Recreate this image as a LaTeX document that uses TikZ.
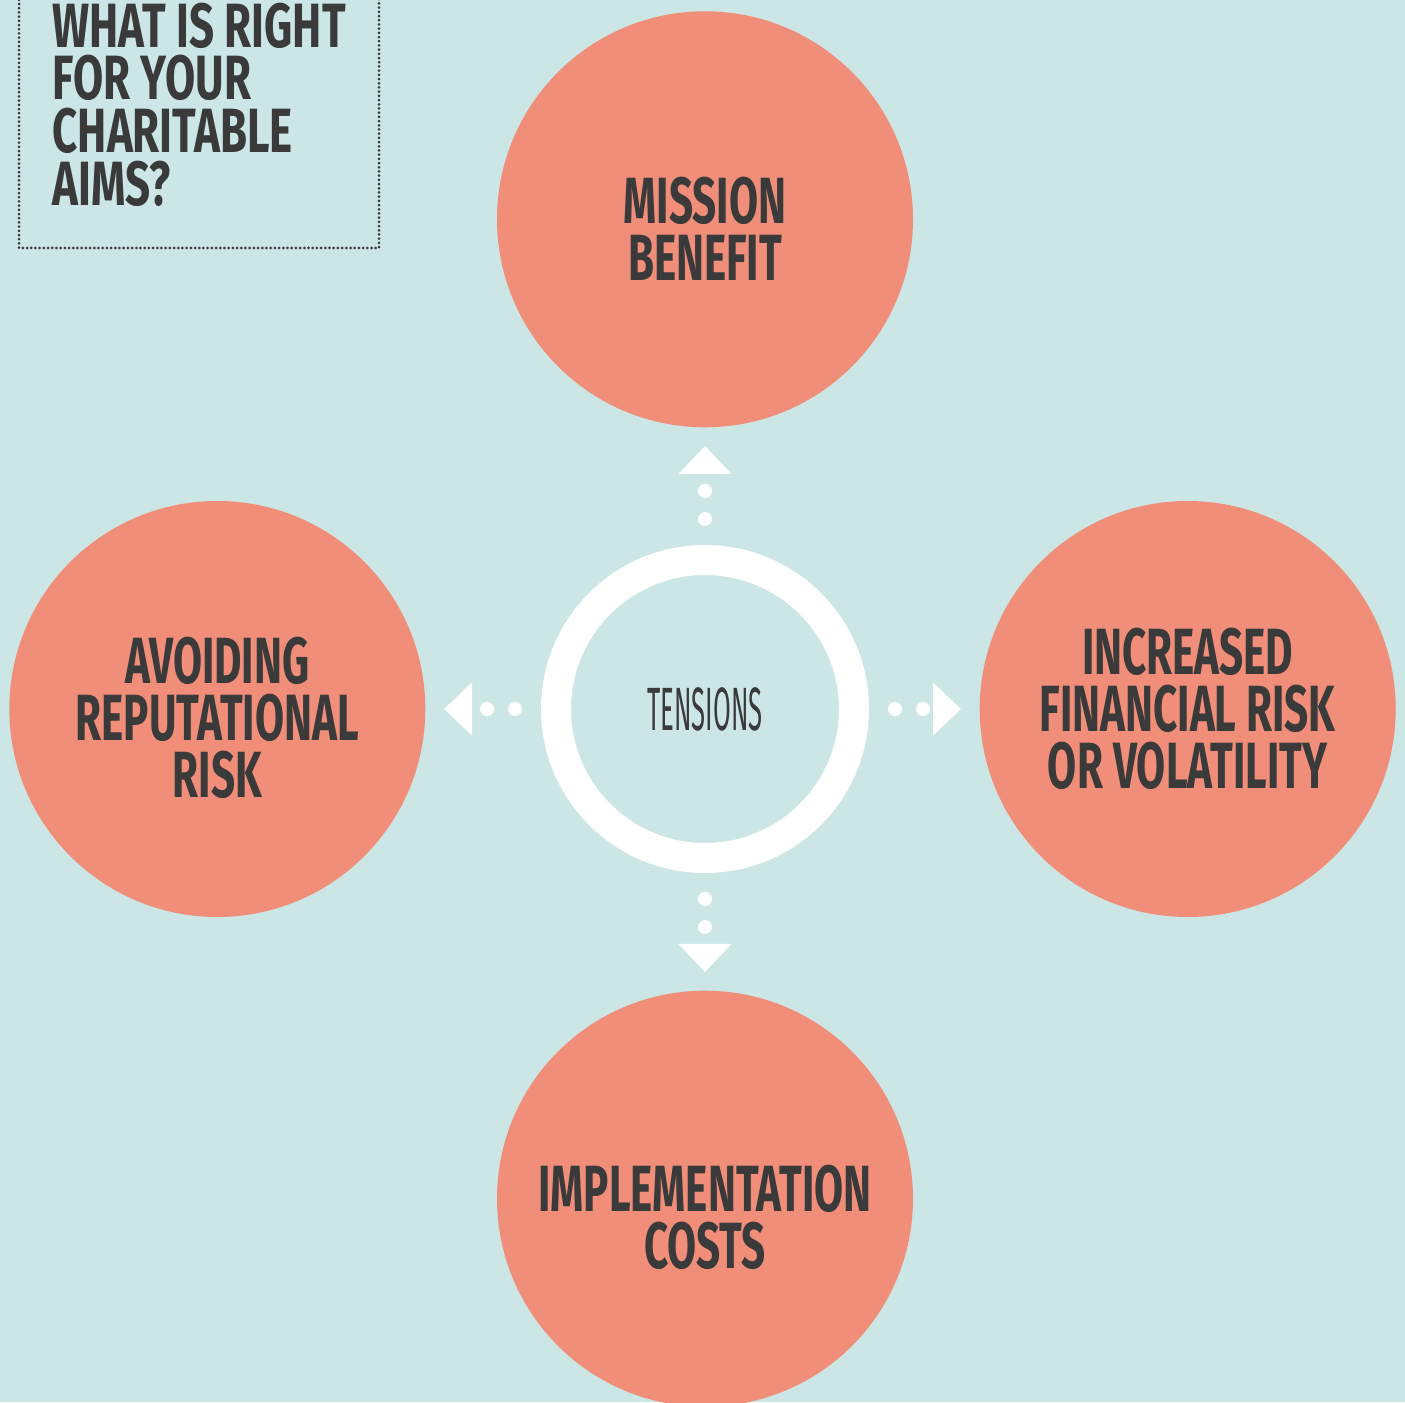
\documentclass[tikz,border=0pt]{standalone}
\usepackage{fontspec}
\usetikzlibrary{arrows.meta,positioning}

\newfontfamily\headfont{Fira Sans}[FakeStretch=0.645]
\newfontfamily\titlefont{Fira Sans}[FakeStretch=0.70]
\newfontfamily\thinfont{Fira Sans}[FakeStretch=0.42]

\definecolor{tealbg}{RGB}{203,230,228}
\definecolor{salmon}{RGB}{241,142,121}
\definecolor{ink}{RGB}{58,58,58}

% pushes the first line down inside its circle
\newcommand{\lift}[1]{\rule{0pt}{#1}}

\tikzset{
  topic/.style={circle, fill=salmon, minimum size=4.16cm, inner sep=0pt,
    text=ink, align=center, font=\headfont\bfseries\fontsize{18.6}{16.2}\selectfont},
  ring/.style={circle, draw=white, line width=0.3cm, minimum size=2.98cm,
    outer sep=0.15cm, text=ink, font=\thinfont\fontsize{17.4}{17}\selectfont},
  pull/.style={white, line width=0.14cm, line cap=round,
    dash pattern=on 0pt off 0.28cm, shorten <=0.26cm, shorten >=0.18cm,
    -{Triangle[length=0.28cm, width=0.53cm, line width=0pt]}},
  heading/.style={inner sep=0pt, text=ink, align=left,
    font=\titlefont\bfseries\fontsize{17.8}{15}\selectfont},
  framebox/.style={draw=ink, line width=0.03cm, line cap=round,
    dash pattern=on 0pt off 0.042cm}
}

\begin{document}
\begin{tikzpicture}[node distance=1.17cm]
  \useasboundingbox (0,0) rectangle (14.05,14.02);
  \clip (0,0) rectangle (14.05,14.02);
  \fill[tealbg] (0,0) rectangle (14.05,14.02);

  % title in the corner
  \draw[framebox] (0.19,14.4) rectangle (3.79,11.54);
  \node[heading, anchor=north west] (aims) at (0.52,14.0)
    {WHAT IS RIGHT\\FOR YOUR\\CHARITABLE\\AIMS?};

  % the ring and the four circles
  \node[ring] (tension) at (7.05,6.93) {TENSIONS};
  \node[topic, above=of tension] (mission) {\lift{18.5pt}MISSION\\BENEFIT};
  \node[topic, left=1.15cm of tension] (reput) {\lift{18pt}AVOIDING\\REPUTATIONAL\\RISK};
  \node[topic, right=1.10cm of tension] (finance) {INCREASED\\FINANCIAL RISK\\OR VOLATILITY};
  \node[topic, below=of tension] (cost) {\lift{23.6pt}IMPLEMENTATION\\COSTS};

  % dotted arrows
  \draw[pull] (tension.north) -- (mission.south);
  \draw[pull] (tension.west) -- (reput.east);
  \draw[pull] (tension.east) -- (finance.west);
  \draw[pull] (tension.south) -- (cost.north);
\end{tikzpicture}
\end{document}
